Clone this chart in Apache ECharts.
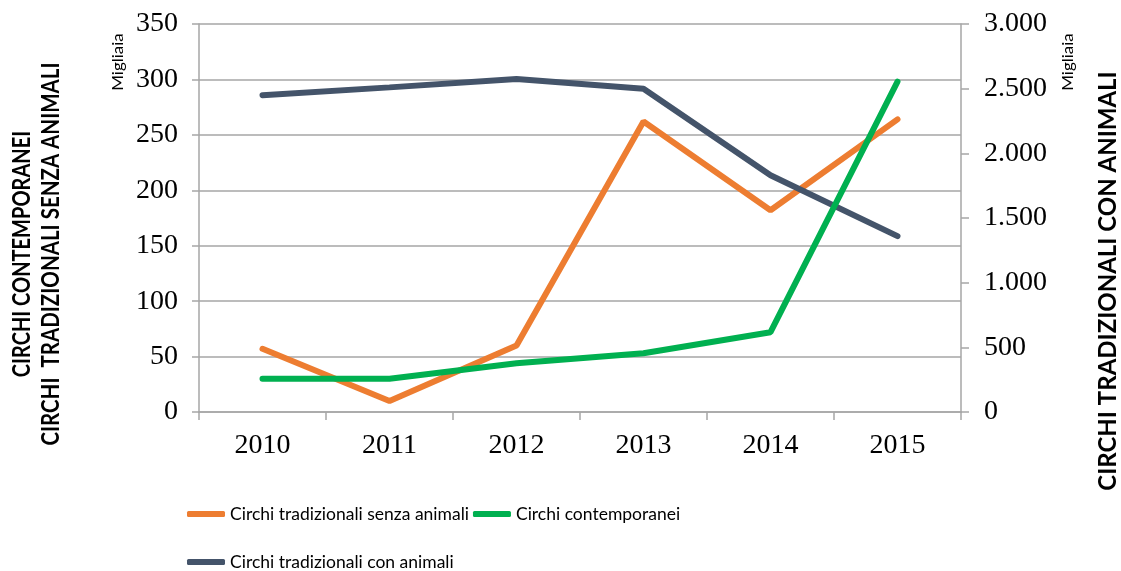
<!DOCTYPE html>
<html>
<head>
<meta charset="utf-8">
<script src="https://cdn.jsdelivr.net/npm/echarts@6/dist/echarts.min.js"></script>
<style>
  html, body { margin: 0; padding: 0; background: #fff; }
  #chart { width: 1121px; height: 571px; }
</style>
</head>
<body>
<div id="chart"></div>
<script>
const years = ['2010', '2011', '2012', '2013', '2014', '2015'];
// migliaia, asse sinistro
const senzaAnimali = [57, 10, 60, 262, 182, 264];
const contemporanei = [30, 30, 44, 53, 72, 298];
// migliaia, asse destro
const conAnimali = [2450, 2510, 2575, 2500, 1830, 1360];

const nomeSenza = 'Circhi tradizionali senza animali';
const nomeContemp = 'Circhi contemporanei';
const nomeCon = 'Circhi tradizionali con animali';

const gridColor = '#a6a6a6';
const serif = '"Liberation Serif", "Times New Roman", serif';
const sans = 'Lato, "Open Sans", sans-serif';

const chart = echarts.init(document.getElementById('chart'));

// separatore migliaia all'italiana
function fmt(v) {
    return String(v).replace(/\B(?=(\d{3})+(?!\d))/g, '.');
}

const option = {
    animation: false,
    grid: { left: 199, right: 160, top: 24, bottom: 159 },
    legend: [
        {
            left: 182, top: 500,
            itemWidth: 38, itemHeight: 6, itemGap: 4,
            icon: 'roundRect',
            textStyle: { fontFamily: sans, fontSize: 17.5, color: '#000' },
            data: [nomeSenza, nomeContemp]
        },
        {
            left: 182, top: 548,
            itemWidth: 38, itemHeight: 6,
            icon: 'roundRect',
            textStyle: { fontFamily: sans, fontSize: 17.5, color: '#000' },
            data: [nomeCon]
        }
    ],
    xAxis: {
        type: 'category',
        data: years,
        boundaryGap: true,
        axisLine: { lineStyle: { color: gridColor, width: 1.5 } },
        axisTick: { show: true, length: 8, lineStyle: { color: gridColor, width: 1.5 } },
        axisLabel: { fontFamily: serif, fontSize: 28, color: '#000', margin: 20 }
    },
    yAxis: [
        {
            type: 'value', min: 0, max: 350, interval: 50,
            axisLine: { show: true, lineStyle: { color: gridColor, width: 1.5 } },
            axisTick: { show: true, length: 7, lineStyle: { color: gridColor, width: 1.5 } },
            splitLine: { lineStyle: { color: gridColor, width: 1.5 } },
            axisLabel: { fontFamily: serif, fontSize: 28, color: '#000', margin: 21 }
        },
        {
            type: 'value', min: 0, max: 3000, interval: 500,
            position: 'right',
            axisLine: { show: true, lineStyle: { color: gridColor, width: 1.5 } },
            axisTick: { show: true, length: 8, lineStyle: { color: gridColor, width: 1.5 } },
            splitLine: { show: false },
            axisLabel: { fontFamily: serif, fontSize: 28, color: '#000', margin: 23, formatter: fmt }
        }
    ],
    graphic: [
        {
            type: 'text', x: 22, y: 254, rotation: Math.PI / 2, scaleY: 1.25,
            style: { text: 'CIRCHI CONTEMPORANEI', font: 'bold 20px ' + sans, fill: '#000', align: 'center', verticalAlign: 'middle' }
        },
        {
            type: 'text', x: 51, y: 254, rotation: Math.PI / 2, scaleY: 1.25,
            style: { text: 'CIRCHI  TRADIZIONALI SENZA ANIMALI', font: 'bold 20.5px ' + sans, fill: '#000', align: 'center', verticalAlign: 'middle' }
        },
        {
            type: 'text', x: 1108, y: 281, rotation: Math.PI / 2,
            style: { text: 'CIRCHI TRADIZIONALI CON ANIMALI', font: 'bold 24px ' + sans, fill: '#000', align: 'center', verticalAlign: 'middle' }
        },
        {
            type: 'text', x: 118, y: 62, rotation: Math.PI / 2, scaleY: 0.85,
            style: { text: 'Migliaia', font: '17px ' + sans, fill: '#000', align: 'center', verticalAlign: 'middle' }
        },
        {
            type: 'text', x: 1068, y: 62, rotation: Math.PI / 2, scaleY: 0.85,
            style: { text: 'Migliaia', font: '17px ' + sans, fill: '#000', align: 'center', verticalAlign: 'middle' }
        }
    ],
    series: [
        {
            name: nomeSenza, type: 'line', yAxisIndex: 0, z: 2,
            data: senzaAnimali, symbol: 'none',
            color: '#ed7d31',
            lineStyle: { width: 6, color: '#ed7d31', cap: 'round' }
        },
        {
            name: nomeContemp, type: 'line', yAxisIndex: 0, z: 4,
            data: contemporanei, symbol: 'none',
            color: '#00b050',
            lineStyle: { width: 6, color: '#00b050', cap: 'round' }
        },
        {
            name: nomeCon, type: 'line', yAxisIndex: 1, z: 3,
            data: conAnimali, symbol: 'none',
            color: '#44546a',
            lineStyle: { width: 6, color: '#44546a', cap: 'round' }
        }
    ]
};

chart.setOption(option);
</script>
</body>
</html>
